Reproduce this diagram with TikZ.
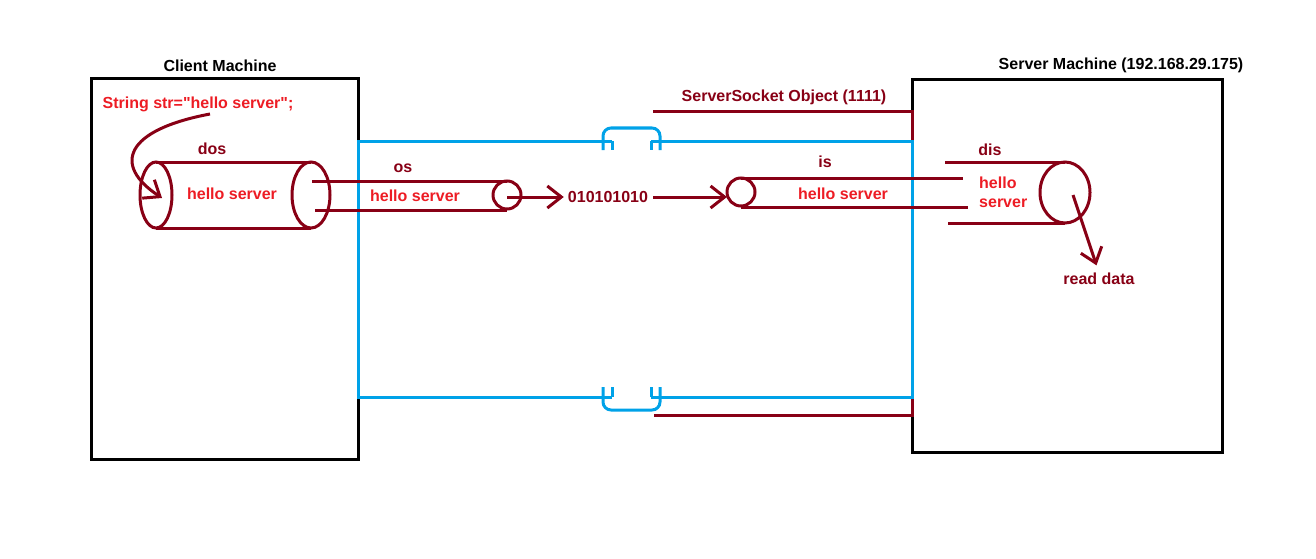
\documentclass[tikz,border=0pt]{standalone}
\usepackage{fontspec}
\setmainfont{Liberation Sans}[Ligatures=TeXOff]
\usetikzlibrary{arrows.meta, positioning}
\definecolor{darkred}{RGB}{136,0,21}
\definecolor{paintred}{RGB}{237,28,36}
\definecolor{paintblue}{RGB}{0,162,232}

\begin{document}
\begin{tikzpicture}[x=1pt, y=-1pt, >={Straight Barb[length=14pt, width=22pt]},
  txt/.style={font=\fontsize{16}{19}\selectfont\bfseries, inner sep=0pt},
  note/.style={txt, text=paintred},
  tag/.style={txt, text=darkred},
  box/.style={draw=black, line width=3pt},
  pipe/.style={draw=darkred, line width=3pt},
  net/.style={draw=paintblue, line width=3pt},
  flow/.style={pipe, ->}]
\useasboundingbox (0,0) rectangle (1316,559);

% machines
\draw[box] (91,79) rectangle (358,459);
\draw[box] (912,80) rectangle (1222,452);
\node[txt] (clientlbl) at (220,66) {Client Machine};
\node[txt] (serverlbl) at (1121,65) {Server Machine (192.168.29.175)};

% server socket
\draw[pipe] (653,112) -- (912,112) -- (912,141);
\draw[pipe] (654,415) -- (912,415) -- (912,397);
\node[tag] (sso) at (784,97) {ServerSocket Object (1111)};

% network link
\draw[net] (612,141) -- (358,141) -- (358,397) -- (612,397);
\draw[net] (651,141) -- (912,141) -- (912,397) -- (651,397);
\draw[net, rounded corners=8pt] (603,150) -- (603,128) -- (660,128) -- (660,150);
\draw[net] (612,141) -- (612,150) (651,141) -- (651,150);
\draw[net, rounded corners=8pt] (603,387) -- (603,410) -- (660,410) -- (660,387);
\draw[net] (612,397) -- (612,387) (651,397) -- (651,387);

% client side
\node[note] (str) at (198,104) {String str="hello server";};
\coordinate (strtail) at (210,114);
\coordinate (dosin) at (162,198);
\draw[flow] (strtail) .. controls (125,130) and (112,165) .. (dosin);
\draw[pipe] (156,195) ellipse [x radius=16pt, y radius=33pt];
\draw[pipe] (311,195) ellipse [x radius=19pt, y radius=33pt];
\draw[pipe] (156,162) -- (311,162) (156,228) -- (311,228);
\node[tag] (dos) at (212,149) {dos};
\node[note] (msg1) at (232,194) {hello server};

\draw[pipe] (312,181) -- (507,181) (315,210) -- (507,210);
\draw[pipe] (507,195) circle [radius=14pt];
\node[tag] (os) at (403,168) {os};
\node[note] (msg2) at (415,196) {hello server};

% on the wire
\coordinate (osout) at (507,197);
\coordinate (isin) at (727,197);
\node[tag] (bits) at (608,197) {010101010};
\draw[flow, shorten >=4pt] (osout) -- (bits.west);
\draw[flow, shorten <=5pt] (bits.east) -- (isin);

% server side
\draw[pipe] (741,178) -- (963,178) (741,207) -- (968,207);
\draw[pipe] (741,192) circle [radius=14pt];
\node[tag] (is) at (825,162) {is};
\node[note] (msg3) at (843,194) {hello server};

\draw[pipe] (945,162) -- (1065,162) (948,223) -- (1065,223);
\draw[pipe] (1065,192.5) ellipse [x radius=25pt, y radius=30.5pt];
\node[tag] (dis) at (990,150) {dis};
\node[note, align=left, anchor=west] (msg4) at (979,192) {hello\\server};

\coordinate (disout) at (1073,195);
\node[tag] (read) at (1099,279) {read data};
\draw[flow, shorten >=8pt] (disout) -- (read.north);

\end{tikzpicture}
\end{document}
